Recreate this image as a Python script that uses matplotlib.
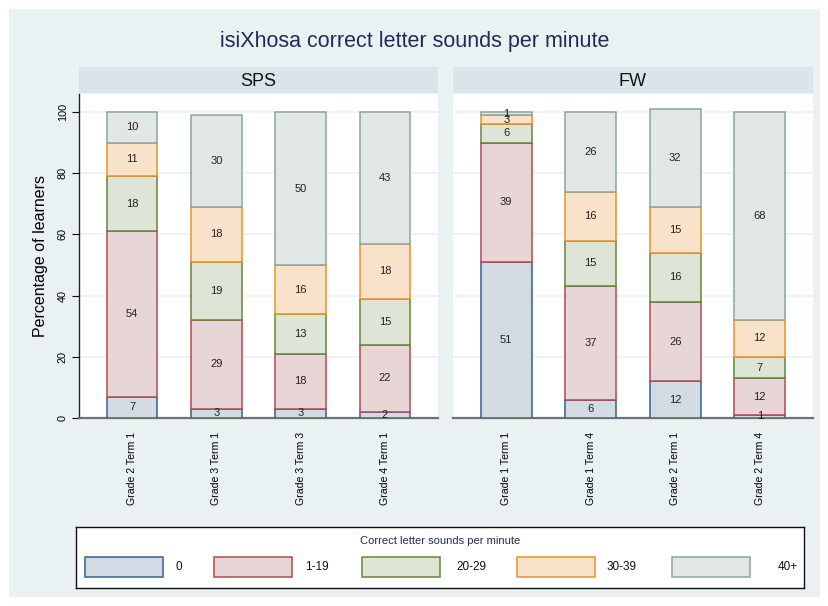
import numpy as np
import matplotlib
matplotlib.use("Agg")
import matplotlib.pyplot as plt
from matplotlib.patches import Rectangle

plt.rcParams['font.family'] = ['Liberation Sans', 'DejaVu Sans']

# categories of correct letter sounds per minute
categories = ["0", "1-19", "20-29", "30-39", "40+"]

# SPS panel
sps_terms = ["Grade 2 Term 1", "Grade 3 Term 1", "Grade 3 Term 3", "Grade 4 Term 1"]
sps_0 = [7, 3, 3, 2]
sps_1_19 = [54, 29, 18, 22]
sps_20_29 = [18, 19, 13, 15]
sps_30_39 = [11, 18, 16, 18]
sps_40 = [10, 30, 50, 43]

# FW panel
fw_terms = ["Grade 1 Term 1", "Grade 1 Term 4", "Grade 2 Term 1", "Grade 2 Term 4"]
fw_0 = [51, 6, 12, 1]
fw_1_19 = [39, 37, 26, 12]
fw_20_29 = [6, 15, 16, 7]
fw_30_39 = [3, 16, 15, 12]
fw_40 = [1, 26, 32, 68]

fills = ["#d2dae3", "#e8d5d6", "#dee4d6", "#f8e3ca", "#e1e7e4"]
edges = ["#36608a", "#b04a51", "#64843d", "#eb9226", "#8aa59b"]

bg = "#eaf1f3"
strip = "#d9e5eb"
navy = "#1e2d55"

fig = plt.figure(figsize=(8.29, 6.06), dpi=100)
fig.patch.set_facecolor("white")
# light backdrop inside a thin white margin
fig.add_artist(Rectangle((9 / 829, 9 / 606), 811 / 829, 588 / 606,
                         transform=fig.transFigure, facecolor=bg,
                         edgecolor="none", zorder=-10))

fig.text(0.5, 1 - 42 / 606, "isiXhosa correct letter sounds per minute",
         ha="center", va="center", fontsize=15.5, color=navy)


def draw_panel(left, width, name, terms, series, show_y):
    ax = fig.add_axes([left, 1 - 418 / 606, width, 324 / 606])
    ax.set_facecolor("white")
    x = np.arange(len(terms))
    bottom = np.zeros(len(terms))
    for vals, fc, ec in zip(series, fills, edges):
        vals = np.array(vals, dtype=float)
        ax.bar(x, vals, bottom=bottom, width=0.6, color=fc, edgecolor=ec,
               linewidth=1.1, zorder=3)
        for xi, b, v in zip(x, bottom, vals):
            ax.text(xi, b + v / 2, f"{int(v)}", ha="center", va="center",
                    fontsize=8, color="#222222", zorder=4)
        bottom += vals
    ax.set_xlim(-0.63, 3.63)
    ax.set_ylim(0, 105.9)
    ax.set_yticks([0, 20, 40, 60, 80, 100])
    ax.yaxis.grid(True, color=bg, linewidth=1.2, zorder=0)
    ax.set_axisbelow(True)
    ax.set_xticks(x)
    ax.set_xticklabels(terms, rotation=90, fontsize=7.6)
    ax.tick_params(axis="x", length=0, pad=10)
    for s in ["top", "right"]:
        ax.spines[s].set_visible(False)
    ax.spines["bottom"].set_color("#707070")
    ax.spines["bottom"].set_linewidth(1.6)
    if show_y:
        ax.spines["left"].set_color("#222222")
        ax.spines["left"].set_linewidth(1.0)
        ax.tick_params(axis="y", length=5, width=0.8, labelsize=7.8, pad=3)
        for lab in ax.get_yticklabels():
            lab.set_rotation(90)
            lab.set_va("center")
        ax.set_ylabel("Percentage of learners", fontsize=11.5, labelpad=7)
    else:
        ax.spines["left"].set_visible(False)
        ax.tick_params(axis="y", length=0, labelleft=False)

    # panel header strip
    sx = fig.add_axes([left, 1 - 93 / 606, width, 26 / 606])
    sx.set_facecolor(strip)
    sx.set_xticks([])
    sx.set_yticks([])
    for s in sx.spines.values():
        s.set_visible(False)
    sx.text(0.5, 0.45, name, ha="center", va="center", fontsize=13,
            color="#111111", transform=sx.transAxes)
    return ax


draw_panel(79 / 829, 359 / 829, "SPS", sps_terms,
           [sps_0, sps_1_19, sps_20_29, sps_30_39, sps_40], True)
draw_panel(453 / 829, 360 / 829, "FW", fw_terms,
           [fw_0, fw_1_19, fw_20_29, fw_30_39, fw_40], False)

# legend box drawn by hand in pixel units
lg = fig.add_axes([76 / 829, 1 - 588 / 606, 728 / 829, 61 / 606])
lg.set_xlim(76, 804)
lg.set_ylim(588, 527)
lg.set_facecolor("white")
lg.set_xticks([])
lg.set_yticks([])
for s in lg.spines.values():
    s.set_color("#111111")
    s.set_linewidth(1.0)
lg.text(440, 541, "Correct letter sounds per minute", ha="center", va="center",
        fontsize=8, color=navy)
patch_x = [85, 214, 362, 517, 672]
label_x = [176, 305, 456, 607, 790]
for px, lx, cat, fc, ec in zip(patch_x, label_x, categories, fills, edges):
    lg.add_patch(Rectangle((px, 557), 78, 20, facecolor=fc, edgecolor=ec,
                           linewidth=1.1))
    ha = "right" if cat == "40+" else "left"
    lg.text(lx + (8 if cat == "40+" else 0), 567, cat, ha=ha, va="center",
            fontsize=8.5, color="#111111")

fig.savefig("out.png", dpi=100, facecolor=fig.get_facecolor())
